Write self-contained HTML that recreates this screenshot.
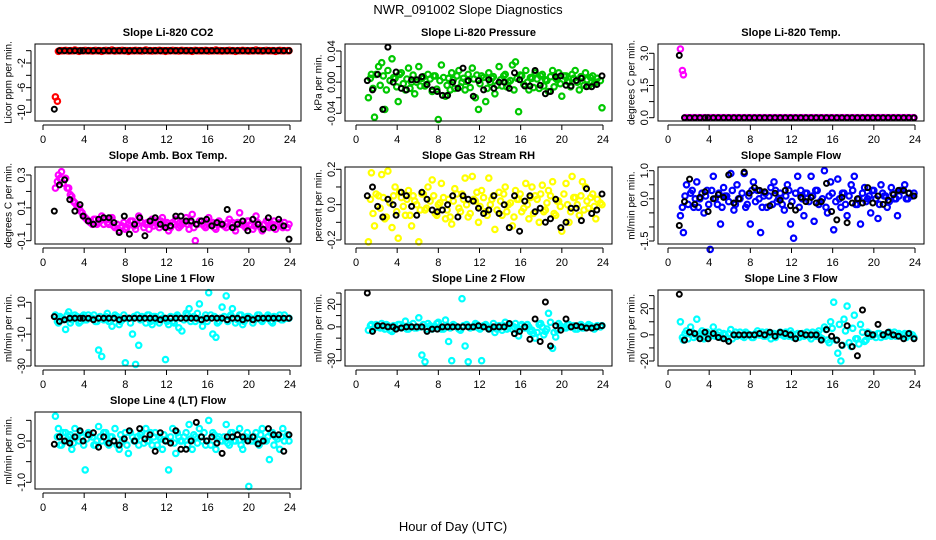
<!DOCTYPE html>
<html><head><meta charset="utf-8"><style>
html,body{margin:0;padding:0;background:#fff;}
svg{display:block;font-family:"Liberation Sans",Arial,sans-serif;}
</style></head><body>
<svg id="chart" width="936" height="540" viewBox="0 0 936 540" xmlns="http://www.w3.org/2000/svg">
<rect width="936" height="540" fill="#fff"/>
<text x="468" y="14" font-size="13" text-anchor="middle">NWR_091002  Slope Diagnostics</text>
<text x="453" y="531" font-size="13" text-anchor="middle">Hour of Day (UTC)</text>
</svg>
<script>
const tb=[1.1,1.6,2.1,2.6,3.1,3.6,3.9,4.4,4.9,5.4,
5.9,6.4,6.9,7.4,7.9,8.4,8.9,9.4,9.9,10.4,
10.9,11.4,11.9,12.4,12.9,13.4,13.9,14.4,14.9,15.4,
15.9,16.4,16.9,17.4,17.9,18.4,18.9,19.4,19.9,20.4,
20.9,21.4,21.9,22.4,22.9,23.4,23.9];
const tc=[1.2,1.5,1.8,2.2,2.5,2.8,3.1,3.5,3.8,4.1,
4.4,4.8,5.1,5.4,5.7,6.1,6.4,6.7,7.0,7.4,
7.7,8.0,8.3,8.7,9.0,9.3,9.6,10.0,10.3,10.6,
10.9,11.3,11.6,11.9,12.2,12.6,12.9,13.2,13.5,13.9,
14.2,14.5,14.8,15.2,15.5,15.8,16.1,16.5,16.8,17.1,
17.4,17.8,18.1,18.4,18.7,19.1,19.4,19.7,20.0,20.4,
20.7,21.0,21.3,21.7,22.0,22.3,22.6,23.0,23.3,23.9];
const tc2=[1.4,1.65,1.95,2.35,2.65,2.95,3.3,3.65,3.95,4.25,
4.6,4.95,5.25,5.55,5.9,6.25,6.55,6.85,7.2,7.55,
7.85,8.15,8.5,8.85,9.15,9.45,9.8,10.15,10.45,10.75,
11.1,11.45,11.75,12.05,12.4,12.75,13.05,13.35,13.7,14.05,
14.35,14.65,15.0,15.35,15.65,15.95,16.3,16.65,16.95,17.25,
17.6,17.95,18.25,18.55,18.9,19.25,19.55,19.85,20.2,20.55,
20.85,21.15,21.5,21.85,22.15,22.45,22.8,23.15,23.45,23.75];
const xTicks=[0,4,8,12,16,20,24];

const co2C=[-7.5,-0.1,0,0.05,-0.05,0,0.1,-0.1,0,0.05,
0,-0.05,0.05,0,-0.1,0.05,0,0.1,-0.05,0,
0.05,0,-0.1,0,0.05,0,-0.05,0.1,0,-0.05,
0,0.05,0,-0.1,0,0.05,0,-0.05,0.05,0,
0,-0.1,0.05,0,0,0.05,-0.05,0,0.1,0,
-0.05,0,0.05,0,-0.1,0,0.05,0,-0.05,0,
0.1,0,-0.05,0.05,0,0,-0.1,0.05,0,0];
const co2C2=[-8.2,0,0,0,0,0,0,0,0,0,0,0,0,0,0,0,0,0,0,0,0,0,0,0,0,0,0,0,0,0,0,0,0,0,0,0,0,0,0,0,0,0,0,0,0,0,0,0,0,0,0,0,0,0,0,0,0,0,0,0,0,0,0,0,0,0,0,0,0,0];
const co2B=[-9.5,0,0,0,0,0,0,0,0,0,0,0,0,0,0,0,0,0,0,0,0,0,0,0,0,0,0,0,0,0,0,0,0,0,0,0,0,0,0,0,0,0,0,0,0,0,0];
const presC=[-0.02,0.01,-0.045,0.02,0.025,-0.035,0.015,0.03,0.005,-0.025,
0.012,-0.01,0.018,0.0,-0.015,0.02,0.005,-0.005,0.01,-0.012,
0.008,-0.048,0.022,-0.018,0.005,0.012,-0.008,0.015,0.0,-0.01,
0.01,0.018,-0.02,-0.035,0.008,-0.025,0.012,0.005,-0.015,0.02,
-0.005,0.01,0.0,0.022,0.026,-0.038,0.008,0.015,-0.01,0.005,
0.012,-0.008,0.01,0.003,-0.012,0.015,0.005,0.012,-0.018,0.008,
0.0,0.01,0.015,-0.01,0.006,0.012,-0.005,0.008,0.0,-0.033];
const presC2=[0.005,-0.008,0.01,-0.004,0.008,-0.01,0.002,0.006,-0.006,0.01,
-0.002,0.004,-0.008,0.009,0.0,-0.005,0.007,-0.003,0.004,0.008,
-0.009,0.002,0.006,-0.004,-0.01,0.003,0.008,-0.006,0.005,0.001,
-0.007,0.004,0.009,-0.002,0.006,-0.008,0.0,0.007,-0.004,0.003,
0.008,-0.006,0.002,-0.01,0.005,0.009,-0.003,0.0,0.006,-0.007,
0.004,0.008,-0.005,0.002,0.007,-0.006,0.003,-0.002,0.008,0.001,
-0.006,0.005,0.0,0.007,-0.004,0.003,0.006,-0.002,0.005,0.002];
const presB=[0.002,-0.01,0.01,-0.035,0.045,0.0,0.013,-0.008,-0.01,0.003,
0.003,0.007,-0.003,-0.01,-0.012,-0.017,-0.017,0.0,-0.008,0.018,
0.002,-0.018,0.002,-0.01,0.003,-0.008,0.0,0.0,-0.008,0.012,
0.003,-0.005,-0.005,0.015,-0.004,-0.015,-0.012,0.007,0.008,-0.004,
-0.005,0.002,0.005,-0.006,-0.006,-0.003,0.008];
const tempC=[3.2,2.0,0,0,0,0,0,0,0,0,0,0,0,0,0,0,0,0,0,0,0,0,0,0,0,0,0,0,0,0,0,0,0,0,0,0,0,0,0,0,0,0,0,0,0,0,0,0,0,0,0,0,0,0,0,0,0,0,0,0,0,0,0,0,0,0,0,0,0,0];
const tempC2=[2.2,0,0,0,0,0,0,0,0,0,0,0,0,0,0,0,0,0,0,0,0,0,0,0,0,0,0,0,0,0,0,0,0,0,0,0,0,0,0,0,0,0,0,0,0,0,0,0,0,0,0,0,0,0,0,0,0,0,0,0,0,0,0,0,0,0,0,0,0,0];
const tempB=[2.9,0,0,0,0,0,0,0,0,0,0,0,0,0,0,0,0,0,0,0,0,0,0,0,0,0,0,0,0,0,0,0,0,0,0,0,0,0,0,0,0,0,0,0,0,0,0];
const ambC=[0.22,0.3,0.32,0.28,0.22,0.17,0.13,0.1,0.07,0.04,
0.02,0.0,0.03,0.01,0.05,0.03,0.0,0.04,-0.02,-0.04,
-0.01,-0.03,0.0,0.02,-0.03,0.05,0.01,0.0,-0.03,0.03,
0.02,-0.02,0.04,0.0,-0.04,0.01,0.03,-0.02,0.0,0.04,
-0.03,0.06,-0.1,0.02,0.0,-0.02,0.04,0.01,-0.03,0.02,
0.0,-0.02,0.03,0.01,-0.04,0.07,0.0,-0.02,0.02,-0.03,
0.05,0.0,-0.04,0.02,-0.02,0.0,-0.03,0.01,-0.02,0.0];
const ambC2=[0.26,0.28,0.25,0.22,0.18,0.14,0.11,0.08,0.05,0.03,
0.01,0.03,0.0,0.02,0.0,0.01,0.03,-0.01,0.0,-0.02,
0.01,-0.02,0.02,-0.01,0.0,0.02,-0.02,0.01,0.0,-0.01,
0.0,0.02,-0.01,0.01,-0.02,0.0,0.02,-0.01,0.01,0.0,
0.01,-0.02,0.0,0.02,-0.01,0.01,0.0,-0.02,0.01,0.0,
-0.01,0.01,0.0,-0.02,0.01,0.0,-0.01,0.02,0.0,-0.01,
0.01,-0.02,0.0,0.01,-0.01,0.02,0.0,-0.01,0.01,-0.02];
const ambB=[0.08,0.24,0.27,0.15,0.08,0.12,0.05,0.02,0.0,0.03,
0.04,0.04,0.01,-0.05,0.05,-0.06,0.0,0.04,-0.07,0.02,
0.04,0.0,-0.02,-0.01,0.05,0.05,0.02,0.02,0.0,0.02,
0.03,-0.01,0.01,0.0,0.09,-0.02,0.0,0.02,-0.04,0.03,
0.0,-0.03,0.04,-0.02,0.03,-0.01,-0.09];
const rhC=[-0.21,0.18,-0.12,0.05,0.17,-0.08,0.19,-0.13,0.1,-0.19,
0.04,-0.06,0.08,-0.12,0.02,-0.21,0.06,-0.03,0.1,0.14,
-0.05,0.0,0.12,-0.08,0.03,-0.11,0.09,-0.02,0.06,0.15,
-0.07,0.16,0.02,-0.1,0.08,-0.04,0.15,0.03,-0.14,0.07,
-0.06,0.1,0.0,-0.12,0.08,0.03,-0.04,0.12,-0.08,0.1,
0.05,-0.1,0.11,-0.03,0.08,0.13,-0.06,0.02,-0.15,0.12,
-0.1,0.16,0.04,-0.06,0.13,0.1,-0.02,0.06,-0.08,0.0];
const rhC2=[0.03,-0.05,0.06,-0.02,0.04,-0.07,0.01,0.05,-0.04,0.07,
-0.01,0.03,-0.06,0.05,0.0,-0.03,0.06,-0.02,0.02,0.05,
-0.06,0.01,0.04,-0.03,-0.07,0.02,0.06,-0.04,0.03,0.0,
-0.05,0.03,0.07,-0.01,0.04,-0.06,0.0,0.05,-0.03,0.02,
0.06,-0.04,0.01,-0.07,0.03,0.06,-0.02,0.0,0.04,-0.05,
0.03,0.06,-0.04,0.01,0.05,-0.05,0.02,-0.01,0.06,0.0,
-0.04,0.04,0.0,0.05,-0.03,0.02,0.04,-0.01,0.03,0.01];
const rhB=[0.05,0.1,-0.01,-0.07,0.03,0.0,-0.06,0.07,0.05,-0.01,
-0.06,0.07,0.03,-0.03,-0.04,-0.03,0.0,0.05,-0.07,0.05,
0.03,0.02,-0.02,-0.05,-0.03,0.05,-0.05,0.0,-0.13,0.05,
-0.15,0.02,0.05,-0.04,-0.02,-0.1,-0.08,0.03,-0.13,-0.1,
-0.02,-0.02,-0.09,0.09,-0.05,-0.03,0.06];
const sfC=[-0.6,-1.2,0.5,0.2,-0.3,0.6,0.0,-0.5,0.3,-1.8,
0.8,-0.2,-0.9,0.4,0.1,0.9,-0.4,0.5,0.0,0.9,
-0.2,-0.9,0.6,0.3,-1.2,0.1,-0.3,0.4,0.6,-0.1,
0.2,-0.4,0.5,-0.9,-1.4,0.8,0.3,-0.6,0.2,0.8,
-0.8,0.3,-0.1,1.0,-0.5,0.6,-1.1,0.7,-0.3,0.2,
-0.6,0.5,0.8,-0.2,-0.9,0.4,0.0,-0.5,0.3,-0.7,
0.5,0.1,-0.3,0.4,0.0,-0.6,0.3,0.5,0.0,0.2];
const sfC2=[-0.3,0.1,-0.2,0.3,0.0,-0.3,0.2,0.1,-0.2,0.3,
0.0,0.2,-0.3,0.1,-0.1,0.3,-0.2,0.0,0.2,-0.3,
0.1,0.3,-0.1,0.0,-0.3,0.2,0.1,-0.2,0.3,0.0,
-0.2,0.1,0.3,-0.1,0.2,-0.3,0.0,0.2,-0.1,0.1,
0.3,-0.2,0.0,-0.3,0.1,0.2,-0.1,0.0,0.2,-0.2,
0.1,0.3,-0.2,0.0,0.2,-0.1,0.1,0.3,0.0,-0.2,
0.2,0.1,-0.1,0.2,0.0,0.1,0.3,0.0,0.2,0.1];
const sfB=[-0.95,-0.1,0.7,-0.2,0.05,0.25,-0.45,0.0,0.15,0.05,
0.85,-0.15,0.0,0.95,0.2,0.4,0.3,0.25,-0.25,0.2,
-0.05,0.3,-0.25,-0.4,0.05,-0.1,0.05,-0.15,-0.1,0.55,
-0.45,-0.75,0.05,-0.85,-0.15,0.0,-0.15,0.4,-0.15,0.1,
-0.2,-0.05,0.15,0.3,0.3,0.2,0.1];
const l1C=[2,-3,0,-7,4,-1,2,-3,1,-1,
2,0,-2,-20,-24,1,-2,-5,2,-4,
-1,-28,0,-10,-29,-17,1,-3,2,-4,
1,-3,0,-26,-4,-2,1,-6,-8,3,
6,0,-2,9,-5,2,16,-10,-12,-2,
7,14,1,6,-3,2,-4,0,1,-3,
0,2,-2,0,1,-3,0,2,-1,0];
const l1C2=[-2,1,-1,2,-3,0,1,-2,2,-1,
0,2,-2,1,-1,3,-2,0,1,-2,
2,0,-3,1,2,-1,0,2,-2,1,
-1,2,0,-2,1,-3,2,0,-1,2,
-2,1,3,-1,0,-2,2,1,-3,0,
1,-2,2,0,-1,2,-2,1,0,-1,
2,-1,0,2,-2,1,0,-1,2,0];
const l1B=[1,-2,-1,0,0,0,0,0,-1,0,
0,0,0,-1,0,0,0,0,0,0,
0,-1,0,0,0,0,0,0,0,-1,
0,0,0,0,-1,0,0,-1,0,-1,
0,0,0,0,0,0,0];
const l2C=[-3,2,-1,0,3,-2,1,-4,0,2,
-1,5,-2,0,-1,8,-25,-31,3,-2,
0,4,-2,6,-13,-30,1,-2,25,-17,
-31,0,3,-1,-30,2,-2,0,-5,1,
-3,4,0,-2,3,-8,2,-1,0,-3,
-10,2,0,-4,12,-19,-9,3,0,-1,
2,0,-2,1,-1,0,2,-1,0,1];
const l2C2=[1,-2,2,-1,0,2,-3,1,-1,2,
0,-2,1,3,-1,0,2,-2,1,-1,
3,0,-2,1,-1,2,0,-3,1,2,
-1,0,2,-2,1,0,-1,3,-2,0,
1,-2,2,0,-3,1,-1,2,-4,-6,
-5,3,-7,-2,4,-5,-3,1,-1,2,
0,1,-2,2,-1,0,1,-2,1,0];
const l2B=[30,-4,1,1,0,0,-2,-1,0,0,
0,0,-4,-2,-2,0,0,0,0,0,
0,0,1,0,-2,0,0,0,3,-6,
-4,0,-11,7,-13,22,-17,1,-3,7,
0,1,0,-1,-1,0,1];
const l3C=[10,-4,3,6,-2,12,1,-3,2,-1,
6,0,-2,1,-3,4,0,-1,2,-2,
1,0,-2,3,0,-1,2,-3,1,0,
2,-1,0,3,-2,1,0,-1,2,-3,
0,1,-2,6,-4,10,25,-14,-20,12,
22,-9,15,-3,8,-5,2,-1,0,1,
-2,0,1,-1,2,0,-1,1,0,-2];
const l3C2=[-2,1,-3,2,0,-1,3,-2,1,0,
-1,2,-2,0,1,-3,2,0,-1,2,
0,-2,1,0,2,-1,0,1,-2,1,
0,2,-1,1,0,-2,1,0,-1,2,
-1,3,-3,4,-6,5,-4,8,-8,3,
-6,5,-3,-7,2,-4,1,0,-2,1,
0,-1,2,0,-1,1,0,-2,1,0];
const l3B=[31,-4,2,1,-3,2,-3,1,-2,-3,
-5,0,0,0,0,0,1,0,2,-1,
2,1,0,-3,1,0,0,0,-4,4,
-1,-4,-8,7,-9,-16,19,1,0,8,
0,2,0,-1,-3,1,-3];
const l4C=[0.6,0.3,-0.1,0.2,0.1,-0.2,0.3,0.0,0.1,-0.7,
0.2,0.1,-0.1,0.35,0.0,0.2,-0.1,0.1,0.3,-0.2,
0.0,0.2,-0.3,0.1,0.0,-0.1,0.2,0.3,0.0,-0.1,
0.2,0.1,-0.2,0.0,-0.7,0.3,-0.3,0.1,0.0,0.2,
0.4,-0.2,0.1,0.3,0.0,-0.1,0.5,0.2,-0.2,0.1,
0.0,0.4,-0.1,0.2,0.0,0.3,-0.2,0.1,-1.1,0.0,
0.2,-0.1,0.3,0.0,-0.45,0.2,0.1,-0.2,0.3,0.0];
const l4C2=[0.1,-0.1,0.2,0.0,0.15,-0.05,0.1,0.2,-0.1,0.05,
0.15,-0.1,0.0,0.1,0.2,-0.05,0.1,0.0,-0.1,0.15,
0.05,-0.1,0.2,0.0,0.1,0.15,-0.05,0.0,0.2,0.1,
-0.1,0.05,0.15,0.0,0.1,-0.05,0.2,0.0,0.1,-0.1,
0.05,0.15,-0.05,0.1,0.2,0.0,-0.1,0.15,0.05,0.0,
0.1,-0.05,0.2,0.0,0.15,-0.1,0.05,0.2,0.0,0.1,
-0.05,0.15,0.0,0.1,0.2,-0.1,0.05,0.1,0.0,0.15];
const l4B=[-0.08,0.1,0.0,-0.05,0.1,0.25,0.0,0.15,0.2,-0.15,
0.1,-0.05,0.0,-0.1,0.05,0.25,0.0,0.3,0.05,0.15,
-0.25,0.2,0.0,-0.05,0.25,-0.2,-0.2,0.0,0.45,0.1,
0.0,0.1,-0.05,-0.3,0.1,0.1,0.15,0.1,0.0,0.1,
-0.07,0.0,0.3,0.15,0.15,-0.25,0.15];

const cols=[{l:35,r:301,x0:43,x24:290},{l:345,r:612,x0:356,x24:603},{l:658,r:924,x0:668,x24:915}];
const rows=[{t:44,b:121},{t:167,b:244},{t:290,b:366},{t:412,b:489}];
const panels=[
{name:"co2",title:"Slope Li-820 CO2",yt:"Licor ppm per min.",c:0,r:0,color:"#ff0000",v1:-10,p1:112.3,v2:-2,p2:63,ticks:[-10,-8,-6,-4,-2,0],labels:["-10","-6","-2"],lv:[-10,-6,-2],C:co2C,C2:co2C2,B:co2B},
{name:"pressure",title:"Slope Li-820 Pressure",yt:"kPa per min.",c:1,r:0,color:"#00c800",v1:-0.04,p1:113.3,v2:0.04,p2:51,ticks:[-0.04,-0.02,0,0.02,0.04],labels:["-0.04","0.00","0.04"],lv:[-0.04,0,0.04],C:presC,C2:presC2,B:presB},
{name:"temp",title:"Slope Li-820 Temp.",yt:"degrees C per min.",c:2,r:0,color:"#ff00ff",v1:0,p1:117.7,v2:3,p2:53.3,ticks:[0,0.75,1.5,2.25,3],labels:["0.0","1.5","3.0"],lv:[0,1.5,3],C:tempC,C2:tempC2,B:tempB},
{name:"amb-box-temp",title:"Slope Amb. Box Temp.",yt:"degrees C per min.",c:0,r:1,color:"#ff00ff",v1:-0.1,p1:240.7,v2:0.3,p2:175,ticks:[-0.1,0,0.1,0.2,0.3],labels:["-0.1","0.1","0.3"],lv:[-0.1,0.1,0.3],C:ambC,C2:ambC2,B:ambB},
{name:"gas-rh",title:"Slope Gas Stream RH",yt:"percent per min.",c:1,r:1,color:"#ffff00",v1:-0.2,p1:240,v2:0.2,p2:169.3,ticks:[-0.2,-0.1,0,0.1,0.2],labels:["-0.2","0.0","0.2"],lv:[-0.2,0,0.2],C:rhC,C2:rhC2,B:rhB},
{name:"sample-flow",title:"Slope Sample Flow",yt:"ml/min per min.",c:2,r:1,color:"#0000ff",v1:-1.5,p1:241,v2:1,p2:170.7,ticks:[-1.5,-1,-0.5,0,0.5,1],labels:["-1.5","0.0","1.0"],lv:[-1.5,0,1],C:sfC,C2:sfC2,B:sfB},
{name:"line1-flow",title:"Slope Line 1 Flow",yt:"ml/min per min.",c:0,r:2,color:"#00ffff",v1:-30,p1:366,v2:10,p2:302.3,ticks:[-30,-20,-10,0,10],labels:["-30","-10","10"],lv:[-30,-10,10],C:l1C,C2:l1C2,B:l1B},
{name:"line2-flow",title:"Slope Line 2 Flow",yt:"ml/min per min.",c:1,r:2,color:"#00ffff",v1:-30,p1:360.7,v2:20,p2:304.3,ticks:[-30,-20,-10,0,10,20,30],labels:["-30","0","20"],lv:[-30,0,20],C:l2C,C2:l2C2,B:l2B},
{name:"line3-flow",title:"Slope Line 3 Flow",yt:"ml/min per min.",c:2,r:2,color:"#00ffff",v1:-20,p1:361,v2:20,p2:308.7,ticks:[-20,-10,0,10,20,30],labels:["-20","0","20"],lv:[-20,0,20],C:l3C,C2:l3C2,B:l3B},
{name:"line4-flow",title:"Slope Line 4 (LT) Flow",yt:"ml/min per min.",c:0,r:3,color:"#00ffff",v1:-1,p1:482.3,v2:0,p2:441,ticks:[-1,-0.5,0,0.5],labels:["-1.0","0.0"],lv:[-1,0],C:l4C,C2:l4C2,B:l4B}
];
const NS="http://www.w3.org/2000/svg";
const svg=document.getElementById('chart');
function mk(tag,attrs,parent){const e=document.createElementNS(NS,tag);for(const k in attrs)e.setAttribute(k,attrs[k]);(parent||svg).appendChild(e);return e;}
panels.forEach(p=>{
  const col=cols[p.c],row=rows[p.r];
  const xs=t=>col.x0+(t/24)*(col.x24-col.x0);
  const ys=v=>p.p1+(v-p.v1)*(p.p2-p.p1)/(p.v2-p.v1);
  const g=mk('g',{});
  
  
  const ti=mk('text',{x:(col.l+col.r)/2,y:row.t-8,'font-size':11,'font-weight':'bold','text-anchor':'middle'},g);
  ti.textContent=p.title;
  
  
  const cg=mk('g',{fill:'none',stroke:p.color,'stroke-width':2.2},g);
  
  
  const nc2=Math.min(tc2.length,p.C2.length);
  for(let i=0;i<nc2;i++){const c=mk('circle',{cx:xs(tc2[i]).toFixed(1),cy:ys(p.C2[i]).toFixed(1),r:2.7},cg);
    
    }
  const nc=Math.min(tc.length,p.C.length);
  for(let i=0;i<nc;i++){const c=mk('circle',{cx:xs(tc[i]).toFixed(1),cy:ys(p.C[i]).toFixed(1),r:2.7},cg);
    
    }
  const bg=mk('g',{fill:'none',stroke:'#000','stroke-width':2},g);
  
  
  const nb=Math.min(tb.length,p.B.length);
  for(let i=0;i<nb;i++){const c=mk('circle',{cx:xs(tb[i]).toFixed(1),cy:ys(p.B[i]).toFixed(1),r:2.5},bg);
    
    }
  const box=mk('rect',{x:col.l,y:row.t,width:col.r-col.l,height:row.b-row.t,fill:'none',stroke:'#000','stroke-width':1},g);
  
  
  const ax=mk('g',{stroke:'#000','stroke-width':1},g);
  
  
  const ay=row.b+4;
  mk('line',{x1:xs(0),x2:xs(24),y1:ay,y2:ay},ax);
  xTicks.forEach(t=>{mk('line',{x1:xs(t),x2:xs(t),y1:ay,y2:ay+5},ax);
    const lb=mk('text',{x:xs(t),y:ay+18,'font-size':11,'text-anchor':'middle',stroke:'none',fill:'#000'},ax);
    lb.textContent=t;
    
    });
  const yg=mk('g',{stroke:'#000','stroke-width':1},g);
  
  
  const axx=col.l-4;
  mk('line',{x1:axx,x2:axx,y1:ys(p.ticks[0]),y2:ys(p.ticks[p.ticks.length-1])},yg);
  p.ticks.forEach(v=>mk('line',{x1:axx-5,x2:axx,y1:ys(v),y2:ys(v)},yg));
  p.lv.forEach((v,i)=>{const lx=col.l-14,ly=ys(v);
    const lb=mk('text',{x:lx,y:ly,'font-size':11,'text-anchor':'middle',stroke:'none',fill:'#000',transform:`rotate(-90 ${lx} ${ly})`,dy:'0.35em'},yg);
    lb.textContent=p.labels[i];
    
    });
  const tx=col.l-27,ty=(row.t+row.b)/2;
  const yt=mk('text',{x:tx,y:ty,'font-size':10,'text-anchor':'middle',transform:`rotate(-90 ${tx} ${ty})`,dy:'0.35em'},g);
  yt.textContent=p.yt;
  
  
});
</script>
</body></html>
